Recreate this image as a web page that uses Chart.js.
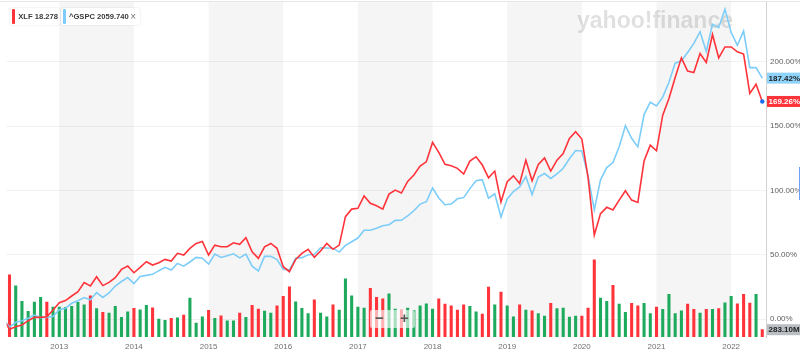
<!DOCTYPE html>
<html><head><meta charset="utf-8">
<script src="https://cdn.jsdelivr.net/npm/chart.js@4.4.1/dist/chart.umd.min.js"></script>
<style>
html,body{margin:0;padding:0;background:#fff;}
#wrap{position:relative;width:800px;height:355px;overflow:hidden;font-family:"Liberation Sans",Arial,sans-serif;}
canvas{position:absolute;left:0;top:0;}
.chip{position:absolute;top:8px;height:17px;background:#fff;border-radius:2px;box-shadow:0 0 1.5px rgba(0,0,0,0.2);font-size:7.6px;font-weight:bold;color:#3a3a3a;line-height:17px;white-space:nowrap;box-sizing:border-box;}
.chip i{position:absolute;left:2px;top:1px;width:2.6px;height:15px;border-radius:1px;}
.chip b{position:absolute;right:4px;top:0;font-size:10px;font-weight:normal;color:#777;}
#zoomctl{position:absolute;left:370px;top:310px;width:45px;height:18px;background:rgba(255,255,255,0.62);border-radius:2px;}
#zoomctl span{position:absolute;top:-1px;font-size:15px;color:#555;font-weight:bold;line-height:18px;}
</style></head>
<body>
<div id="wrap">
<canvas id="c" width="800" height="355"></canvas>
<div class="chip" style="left:10px;width:50px;padding-left:8.3px;"><i style="background:#ff333a"></i>XLF 18.278</div>
<div class="chip" style="left:61px;width:79px;padding-left:8px;"><i style="background:#7ccdf8;left:2.3px"></i>^GSPC 2059.740<b>×</b></div>
<div id="zoomctl"><span style="left:5px">−</span><span style="left:30px">+</span></div>
</div>
<script>
// ---- data (monthly, Apr 2012 .. Jun 2022) ----
const startYear = 2012, startMonth = 4, monthCount = 123;
const months = [];
for (let k = 0; k < monthCount; k++) {
  const t = (startMonth - 1) + k;
  months.push((startYear + Math.floor(t / 12)) + '-' + String(t % 12 + 1).padStart(2, '0'));
}
// XLF % change
const xlfPct = [
  0, -8.0, -6.0, -4.7, -1.3, 1.3, 1.3, 1.8, 7.0,
  12.7, 14.3, 17.9, 21.3, 28.3, 25.7, 32.9, 26.0, 28.5, 32.1, 38.6, 41.2,
  36.0, 40.2, 44.6, 42.0, 43.8, 46.4, 45.1, 51.1, 49.8, 54.9, 58.8, 60.3,
  49.8, 57.5, 56.2, 56.2, 59.3, 58.1, 63.2, 52.3, 47.2, 56.2, 58.8, 55.0,
  40.7, 36.8, 46.4, 51.1, 54.2, 48.0, 52.9, 58.8, 54.2, 57.5, 79.6, 85.5,
  86.1, 95.7, 90.0, 88.1, 85.5, 97.2, 100.3, 98.0, 107.0, 112.0, 119.0, 122.3,
  137.4, 129.6, 120.3, 119.2, 117.2, 112.8, 122.9, 126.2, 119.8, 109.9, 115.1, 91.1,
  106.8, 111.4, 105.5, 123.6, 107.6, 120.3, 125.4, 115.1, 123.6, 128.8, 140.5, 145.7,
  140.0, 110.0, 65.3, 82.0, 86.9, 84.8, 92.5, 99.8, 92.5, 90.7, 122.9, 135.3,
  130.9, 158.6, 171.6, 187.9, 203.2, 192.9, 191.8, 206.6, 199.6, 221.4, 203.2, 211.7,
  211.7, 207.9, 206.1, 175.5, 182.7, 169.26
];
// ^GSPC % change
const spxPct = [
  0, -6.26, -2.56, -1.33, 0.62, 3.06, 1.02, 1.31, 2.02,
  7.17, 8.35, 12.25, 14.28, 16.66, 14.91, 20.59, 16.82, 20.29, 25.65, 29.18, 32.22,
  27.52, 33.02, 33.94, 34.77, 37.60, 40.23, 38.11, 43.31, 41.09, 44.36, 47.90, 47.28,
  42.71, 50.55, 47.93, 49.19, 50.75, 47.59, 50.50, 41.08, 37.35, 48.75, 48.82, 46.21,
  38.80, 38.22, 47.34, 47.74, 50.01, 50.14, 55.49, 55.30, 55.11, 52.09, 57.29, 60.16,
  63.02, 69.08, 69.02, 70.55, 72.53, 73.36, 76.71, 76.81, 80.22, 84.22, 89.40, 91.26,
  102.01, 94.14, 88.92, 89.43, 93.52, 94.46, 101.45, 107.56, 108.45, 93.99, 97.45, 79.33,
  93.44, 99.19, 102.76, 110.73, 96.87, 110.44, 113.20, 109.35, 112.94, 117.29, 124.69, 131.11,
  130.74, 111.33, 84.89, 108.34, 117.78, 121.78, 134.00, 150.40, 140.57, 133.92, 159.08, 168.69,
  165.70, 172.63, 184.20, 199.10, 200.74, 207.42, 214.42, 223.53, 208.14, 229.45, 226.70, 240.95,
  223.02, 212.89, 224.08, 195.58, 195.59, 187.42
];
// XLF volume, millions of shares
const volumeM = [
  null, 2416, 1989, 1384, 997, 1357, 1540, 1357, 1163,
  1163, 1152, 1191, 1346, 1253, 1602, 1098, 958, 931, 1191, 764, 981,
  1113, 1059, 1229, 1136, 698, 648, 725, 748, 853, 1512, 543, 787,
  1035, 725, 826, 632, 632, 931, 764, 1229, 1086, 1008, 931, 1214,
  1578, 1951, 1369, 1113, 904, 1447, 931, 787, 1253, 1047, 2261, 1602,
  1163, 1125, 1889, 1540, 1485, 1679, 1086, 1047, 1125, 1035, 1214, 1291,
  1086, 1485, 1280, 1214, 1047, 1253, 1191, 981, 892, 1939, 1253, 1745,
  1214, 787, 1253, 1047, 1020, 904, 814, 1307, 1098, 1125, 776, 814,
  814, 1125, 2998, 1512, 1384, 2005, 1280, 958, 1307, 1214, 1307, 904,
  1163, 1074, 1656, 904, 1020, 1280, 1074, 931, 1074, 1074, 1098, 1330,
  1578, 1291, 1656, 1319, 1656, 283.1
];
// month direction: 1 = up month, -1 = down month
const volumeDir = [
  0, -1, 1, 1, 1, 1, 1, -1, 1,
  1, 1, 1, 1, 1, -1, 1, -1, 1, 1, 1, 1,
  -1, 1, 1, -1, 1, 1, -1, 1, -1, 1, 1, 1,
  -1, 1, -1, 1, 1, -1, 1, -1, -1, 1, 1, -1,
  -1, -1, 1, 1, 1, -1, 1, 1, -1, 1, 1, 1,
  1, 1, -1, -1, -1, 1, 1, -1, 1, 1, 1, 1,
  1, -1, -1, -1, -1, -1, 1, 1, -1, -1, 1, -1,
  1, 1, -1, 1, -1, 1, 1, -1, 1, 1, 1, 1,
  -1, -1, -1, 1, 1, -1, 1, 1, -1, -1, 1, 1,
  -1, 1, 1, 1, 1, -1, -1, 1, -1, 1, -1, 1,
  1, -1, -1, -1, 1, -1
];
const yearTicks = [2013, 2014, 2015, 2016, 2017, 2018, 2019, 2020, 2021, 2022];
const shadedYears = [2013, 2015, 2017, 2019, 2021];
const pctTicks = [0, 50, 100, 150, 200];

// ---- helpers ----
const mIndex = s => { const [y, m] = s.split('-').map(Number); return (y - 2012) * 12 + (m - 1); };
const toPts = arr => months.map((s, k) => ({ x: mIndex(s), y: arr[k] }));
const RED = '#ff333a', BLUE = '#7ccdf8', GREEN = '#1daa5c';
const lastIdx = months.length - 1;
const noPad = s => { s.paddingTop = 0; s.paddingBottom = 0; s.paddingLeft = 0; s.paddingRight = 0; };

const deco = {
  id: 'deco',
  beforeDraw(chart) {
    const { ctx, chartArea: a, scales: { x } } = chart;
    ctx.save();
    ctx.fillStyle = '#f5f5f5';
    shadedYears.forEach(yr => {
      const x0 = x.getPixelForValue((yr - 2012) * 12), x1 = x.getPixelForValue((yr + 1 - 2012) * 12);
      ctx.fillRect(x0, a.top, x1 - x0, a.bottom - a.top);
    });
    ctx.fillStyle = '#e6e6e6';
    ctx.fillRect(0, 1, 800, 1);
    // watermark
    ctx.fillStyle = 'rgba(0,0,0,0.12)';
    ctx.font = 'bold 23px "Liberation Sans", Arial, sans-serif';
    ctx.textBaseline = 'alphabetic';
    const w = ctx.measureText('yahoo!finance').width;
    ctx.save();
    ctx.translate(577, 27.5);
    ctx.scale(156 / w, 1);
    ctx.fillText('yahoo!finance', 0, 0);
    ctx.restore();
    ctx.restore();
  },
  afterDraw(chart) {
    const { ctx, chartArea: a, scales: { y, yv } } = chart;
    ctx.save();
    const box = (py, text, bg, fg) => {
      ctx.fillStyle = bg;
      ctx.fillRect(a.right + 1, py - 5.5, 40, 11);
      ctx.fillStyle = fg;
      ctx.font = 'bold 8px "Liberation Sans", Arial, sans-serif';
      ctx.textBaseline = 'middle';
      ctx.textAlign = 'left';
      ctx.fillText(text, a.right + 2.5, py + 0.5);
    };
    box(y.getPixelForValue(spxPct[lastIdx]), spxPct[lastIdx].toFixed(2) + '%', '#8fd3fa', '#1d1d1d');
    box(y.getPixelForValue(xlfPct[lastIdx]), xlfPct[lastIdx].toFixed(2) + '%', RED, '#ffffff');
    box(yv.getPixelForValue(volumeM[lastIdx]), volumeM[lastIdx].toFixed(2) + 'M', '#babec3', '#222');
    ctx.fillStyle = '#6f9ff0';
    ctx.fillRect(799, 167, 1, 33);
    ctx.restore();
  }
};

new Chart(document.getElementById('c'), {
  type: 'line',
  data: {
    datasets: [
      {
        label: 'XLF', data: toPts(xlfPct), yAxisID: 'y', order: 1,
        borderColor: RED, borderWidth: 1.6, tension: 0,
        pointRadius: c => c.dataIndex === lastIdx ? 2.2 : 0,
        pointBackgroundColor: '#1a6cf0', pointBorderWidth: 0, pointHoverRadius: 0
      },
      {
        label: '^GSPC', data: toPts(spxPct), yAxisID: 'y', order: 2,
        borderColor: BLUE, borderWidth: 1.6, tension: 0, pointRadius: 0, pointHoverRadius: 0
      },
      {
        type: 'bar', label: 'Volume', data: toPts(volumeM), yAxisID: 'yv', order: 3,
        backgroundColor: c => volumeDir[c.dataIndex] < 0 ? RED : GREEN,
        barThickness: 2.4, borderWidth: 0
      }
    ]
  },
  options: {
    responsive: false, animation: false, devicePixelRatio: 1,
    layout: { padding: { left: 6.7, top: 2, right: 0, bottom: 0 } },
    plugins: { legend: { display: false }, tooltip: { enabled: false } },
    scales: {
      x: {
        type: 'linear', min: 3.55, max: 125.6, offset: false,
        grid: { display: false, drawTicks: false }, border: { display: false },
        afterBuildTicks: s => { s.ticks = yearTicks.map(yr => ({ value: (yr - 2012) * 12 })); },
        afterFit: s => { s.height = 18; noPad(s); },
        ticks: {
          autoSkip: false, maxRotation: 0, padding: 5, color: '#707070',
          font: { size: 8, family: '"Liberation Sans", Arial, sans-serif' },
          callback: v => String(2012 + Math.round(v / 12))
        }
      },
      y: {
        position: 'right', min: -14.0, max: 246.5,
        afterBuildTicks: s => { s.ticks = pctTicks.map(v => ({ value: v })); },
        afterFit: s => { s.width = 34; noPad(s); },
        grid: { color: 'rgba(0,0,0,0.055)', drawTicks: false },
        border: { display: true, color: '#d2d2d2', width: 1 },
        ticks: {
          padding: 4, color: '#606060',
          font: { size: 8, family: '"Liberation Sans", Arial, sans-serif' },
          callback: v => v.toFixed(2) + '%'
        }
      },
      yv: { display: false, min: 0, max: 12990, afterFit: noPad }
    }
  },
  plugins: [deco]
});
</script>
</body></html>
